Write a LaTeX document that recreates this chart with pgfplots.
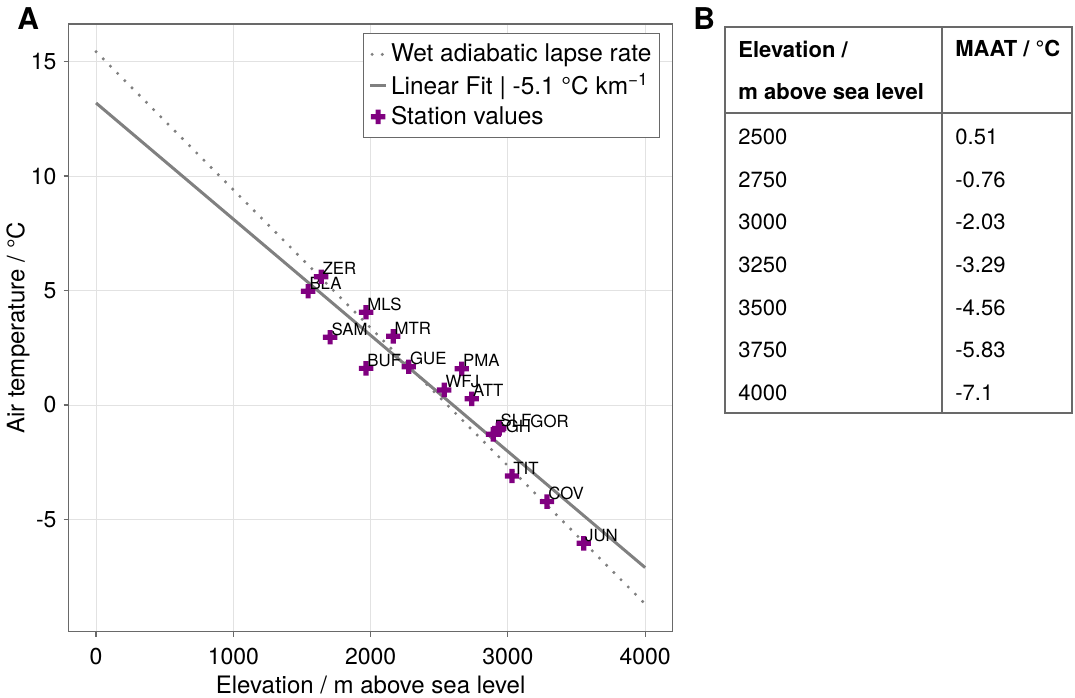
\documentclass[border=0pt]{standalone}
\usepackage{fontspec}
\setmainfont{TeX Gyre Heros}
\usepackage{pgfplots}
\pgfplotsset{compat=1.18}

\definecolor{linegray}{RGB}{128,128,128}
\definecolor{framegray}{RGB}{105,105,105}
\definecolor{gridgray}{RGB}{226,226,226}
\definecolor{stationpurple}{RGB}{128,0,128}

% filled plus-shaped marker
\pgfdeclareplotmark{fatplus}{%
  \pgfpathmoveto{\pgfqpoint{-3.6pt}{-1.3pt}}%
  \pgfpathlineto{\pgfqpoint{-1.3pt}{-1.3pt}}%
  \pgfpathlineto{\pgfqpoint{-1.3pt}{-3.6pt}}%
  \pgfpathlineto{\pgfqpoint{1.3pt}{-3.6pt}}%
  \pgfpathlineto{\pgfqpoint{1.3pt}{-1.3pt}}%
  \pgfpathlineto{\pgfqpoint{3.6pt}{-1.3pt}}%
  \pgfpathlineto{\pgfqpoint{3.6pt}{1.3pt}}%
  \pgfpathlineto{\pgfqpoint{1.3pt}{1.3pt}}%
  \pgfpathlineto{\pgfqpoint{1.3pt}{3.6pt}}%
  \pgfpathlineto{\pgfqpoint{-1.3pt}{3.6pt}}%
  \pgfpathlineto{\pgfqpoint{-1.3pt}{1.3pt}}%
  \pgfpathlineto{\pgfqpoint{-3.6pt}{1.3pt}}%
  \pgfpathclose\pgfusepathqfill}

\pgfplotsset{
  short line legend/.style={legend image code/.code={\draw[##1] (0pt,0pt) -- (8pt,0pt);}},
  dot line legend/.style={legend image code/.code={\draw[##1] (1pt,0pt) -- (8pt,0pt);}},
  single mark legend/.style={legend image code/.code={\draw[##1] plot coordinates {(4pt,0pt)};}},
  station labels/.style={
    point meta=explicit symbolic,
    nodes near coords,
    every node near coord/.append style={anchor=base west, inner sep=0pt,
      xshift=0.5pt, yshift=1pt, text=black, font=\fontsize{8.4}{10}\selectfont}},
}

\begin{document}
\begin{tikzpicture}
\useasboundingbox (0pt,0pt) rectangle (537.5pt,348.5pt);

% panel letters
\node[anchor=base west, inner sep=0pt, font=\fontsize{15}{18}\selectfont\bfseries] at (8.5pt,333.5pt) {A};
\node[anchor=base west, inner sep=0pt, font=\fontsize{15}{18}\selectfont\bfseries] at (346.5pt,333.5pt) {B};

\begin{axis}[
  at={(34.3pt,32.65pt)}, anchor=south west,
  scale only axis, width=302pt, height=303.85pt,
  xmin=-200, xmax=4200, ymin=-9.9, ymax=16.64,
  xtick={0,1000,2000,3000,4000},
  ytick={-5,0,5,10,15},
  grid=major,
  grid style={gridgray, line width=0.5pt},
  axis line style={framegray, line width=0.6pt},
  tick style={framegray, line width=0.6pt},
  tick align=outside, major tick length=2.5pt,
  xtick pos=bottom, ytick pos=left,
  scaled ticks=false,
  /pgf/number format/1000 sep={},
  /pgf/number format/assume math mode=true,
  ticklabel style={font=\fontsize{11.5}{13}\selectfont},
  xticklabel style={yshift=-2.3pt},
  label style={font=\fontsize{12}{14}\selectfont},
  xlabel={Elevation / m above sea level},
  xlabel style={yshift=1.2pt},
  ylabel={Air temperature / °C},
  ylabel style={at={(axis description cs:-0.0838,0.5)}, anchor=center},
  legend style={
    at={(rel axis cs:1,1)}, xshift=-6.25pt, yshift=-4.5pt, anchor=north east,
    draw=framegray, line width=0.6pt,
    font=\fontsize{12.2}{14}\selectfont,
    inner xsep=2.5pt, inner ysep=3.6pt,
    row sep=1.2pt,
    nodes={inner sep=1.6pt},
  },
  legend cell align=left,
]

% wet adiabatic lapse rate
\addplot[linegray, line width=1.7pt, line cap=round, dash pattern=on 0pt off 5.1pt,
  dot line legend]
  coordinates {(0,15.43) (4000,-8.69)};
\addlegendentry{Wet adiabatic lapse rate}

% linear fit through the station values
\addplot[linegray, line width=1.5pt, short line legend]
  coordinates {(0,13.19) (4000,-7.10)};
\addlegendentry{Linear Fit | -5.1 °C km\textsuperscript{−1}}

% stations
\addplot[only marks, mark=fatplus, color=stationpurple, single mark legend, station labels]
  table[meta=name] {
x    y     name
1545  4.97  BLA
1640  5.60  ZER
1967  4.05  MLS
1705  2.96  SAM
2165  3.00  MTR
1967  1.60  BUF
2278  1.67  GUE
2664  1.58  PMA
2536  0.66  WFJ
2737  0.27  ATT
2893  -1.28 EGH
2937  -1.02 SLF
3030  -3.10 TIT
3285  -4.22 COV
3553  -6.04 JUN
};
\addlegendentry{Station values}

\addplot[only marks, mark=fatplus, color=stationpurple, forget plot, station labels,
  every node near coord/.append style={xshift=15.4pt}]
  table[meta=name] {
x    y     name
2930  -1.08 GOR
};
\end{axis}

% panel B: fitted MAAT by elevation
\draw[framegray, line width=0.6pt] (362.5pt,142pt) rectangle (536pt,335pt);
\draw[framegray, line width=0.6pt] (471pt,142pt) -- (471pt,335pt);
\draw[framegray, line width=0.6pt] (362.5pt,292pt) -- (536pt,292pt);
\begin{scope}[every node/.style={anchor=west, inner sep=0pt, font=\fontsize{11}{13}\selectfont}]
  \node[font=\fontsize{11}{13}\selectfont\bfseries] at (369pt,324pt) {Elevation /};
  \node[font=\fontsize{11}{13}\selectfont\bfseries] at (369pt,302.5pt) {m above sea level};
  \node[font=\fontsize{11}{13}\selectfont\bfseries] at (477.5pt,324pt) {MAAT / °C};
  \foreach \e/\t [count=\i from 0] in {2500/0.51, 2750/-0.76, 3000/-2.03, 3250/-3.29, 3500/-4.56, 3750/-5.83, 4000/-7.1} {
    \node at (369pt, 280pt-\i*21.33pt) {\e};
    \node at (477.5pt, 280pt-\i*21.33pt) {\t};
  }
\end{scope}
\end{tikzpicture}
\end{document}
